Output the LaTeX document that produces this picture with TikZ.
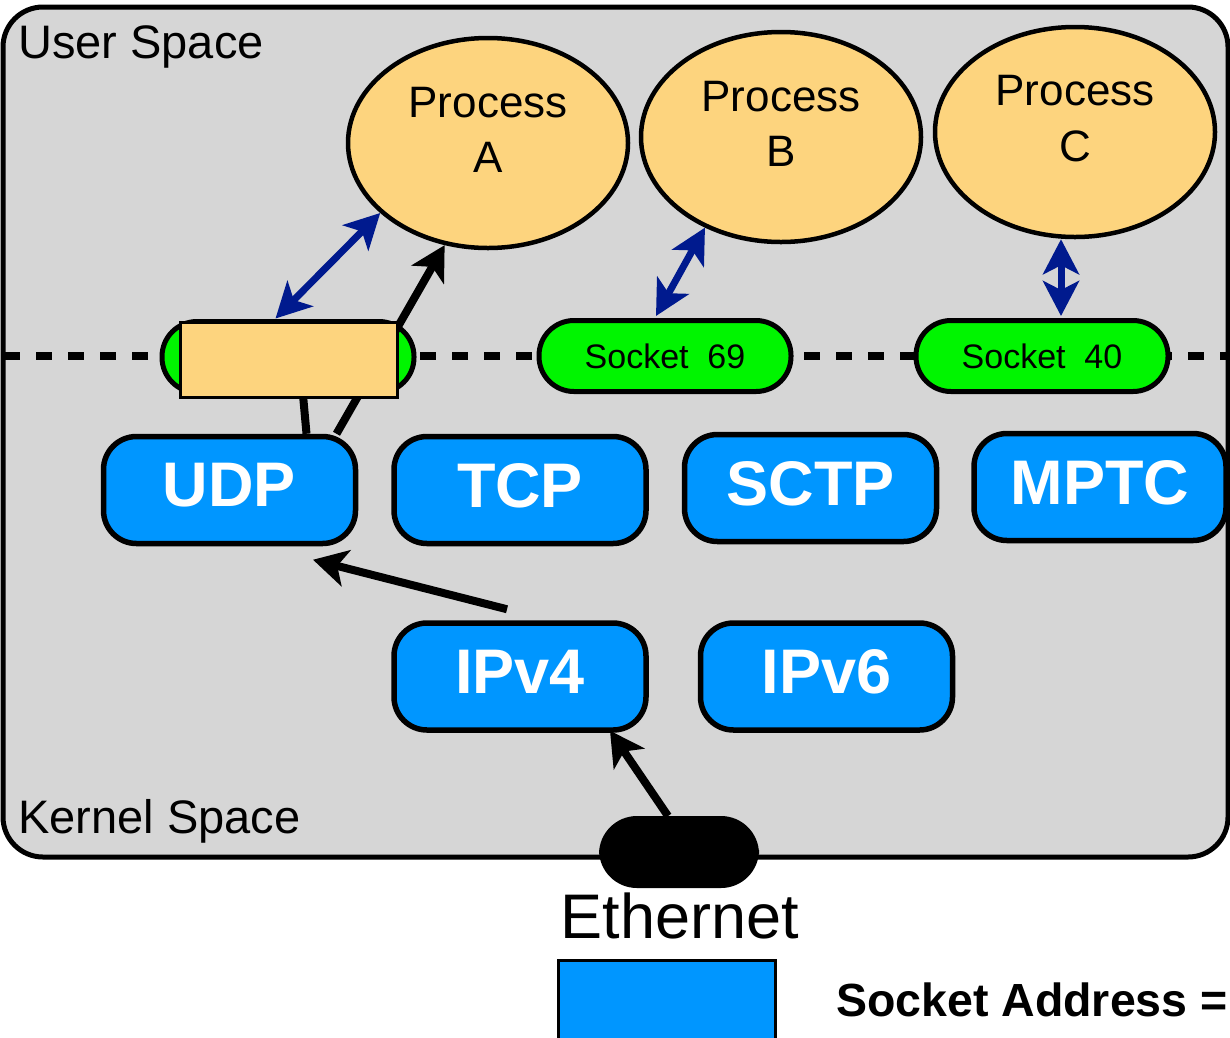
\documentclass[tikz,border=0pt]{standalone}
\usepackage{fontspec}
\setmainfont{Liberation Sans}
\usetikzlibrary{arrows.meta,calc,shapes.geometric}
\definecolor{panelgray}{HTML}{D6D6D6}
\definecolor{procorange}{HTML}{FDD47E}
\definecolor{protoblue}{HTML}{0096FF}
\definecolor{sockgreen}{HTML}{00F500}
\definecolor{linknavy}{HTML}{001A8E}
\newcommand{\fsz}[1]{\fontsize{#1}{#1}\selectfont}
\tikzset{
  proc/.style={ellipse, draw, line width=4.5pt, fill=procorange,
    minimum width=280pt, minimum height=210pt, inner sep=0pt},
  proctext/.style={anchor=base, inner sep=0pt, font=\fsz{44}},
  sock/.style={draw, line width=5pt, fill=sockgreen, rounded corners=35pt,
    minimum width=252pt, minimum height=71pt, inner sep=0pt, font=\fsz{34}},
  proto/.style={draw, line width=5.5pt, fill=protoblue, rounded corners=33pt,
    minimum width=252pt, minimum height=107pt, inner sep=0pt, text depth=10pt,
    text=white, font=\fsz{63}\bfseries},
  spacelabel/.style={anchor=base west, inner sep=0pt, font=\fsz{47}},
  blackarrow/.style={line width=8pt, -{Stealth[length=34pt,width=37pt,inset=9pt]}},
  blackline/.style={line width=8pt},
  bluearrow/.style={line width=7pt, draw=linknavy,
    {Stealth[length=35pt,width=36pt,inset=9pt,fill=linknavy]}-{Stealth[length=35pt,width=36pt,inset=9pt,fill=linknavy]}}
}
\begin{document}
\begin{tikzpicture}[x=1pt,y=-1pt]
\useasboundingbox (0,0) rectangle (1230,1037);

% user/kernel panel
\draw[line width=5pt, fill=panelgray, rounded corners=40pt] (3,7) rectangle (1228,857);
\node[spacelabel] (userlbl) at (18,58) {User Space};
\node[spacelabel] (kernlbl) at (18,833) {Kernel Space};

% user/kernel boundary
\draw[line width=8pt, dash pattern=on 16pt off 16pt] (4,356) -- (1230,356);

% sockets
\node[sock] (sudp) at (288,357) {};
\node[sock] (s69) at (665,356) {Socket~~69};
\node[sock] (s40) at (1042,356) {Socket~~40};

% processes
\node[proc] (pA) at (488,143) {};
\node[proc] (pB) at (781,137) {};
\node[proc] (pC) at (1075,132) {};
\node[proctext] (pAt1) at (488,117) {Process};
\node[proctext] (pAt2) at (488,172) {A};
\node[proctext] (pBt1) at (781,111) {Process};
\node[proctext] (pBt2) at (781,166) {B};
\node[proctext] (pCt1) at (1075,105) {Process};
\node[proctext] (pCt2) at (1075,161) {C};

% protocol boxes
\node[proto] (udp) at (229.5,490) {UDP};
\node[proto] (tcp) at (520,490) {TCP};
\node[proto] (sctp) at (810.5,488) {SCTP};
\node[proto] (mptc) at (1100,487) {MPTC};
\node[proto] (ipv4) at (520,676.5) {IPv4};
\node[proto] (ipv6) at (826.5,676.5) {IPv6};

% UDP up through its socket to process A
\draw[blackline] ($(udp.north)+(77,0)$) -- ($(sudp.south)+(15,0)$);
\draw[blackarrow] ($(udp.north)+(107,0)$) -- (pA.-113);

% address block over the UDP socket
\node[draw, line width=3pt, fill=procorange, minimum width=217pt, minimum height=75pt,
  inner sep=0pt] (addr) at (288.5,359.5) {};

% socket <-> process links
\draw[bluearrow] ($(addr.north)+(-13,-2)$) -- (pA.-147);
\draw[bluearrow] ($(s69.north)+(-9,-2)$) -- (pB.-130);
\coordinate (s40top) at ($(s40.north)+(19,-2)$);
\draw[bluearrow] (s40top) -- (s40top |- pC.south);

% ethernet
\node[draw, fill=black, rounded corners=37pt, minimum width=158pt, minimum height=70pt,
  line width=2pt] (eth) at (679,852) {};
\node[anchor=base, inner sep=0pt, font=\fsz{63}] (ethlbl) at (680,938) {Ethernet};

% packet path
\draw[blackarrow] ($(eth.north)+(-11,0)$) -- ($(ipv4.south)+(90,-2)$);
\draw[blackarrow] ($(ipv4.north)+(-13,-11)$) -- ($(udp.south)+(83.5,13.5)$);

% legend
\node[draw, line width=3pt, fill=protoblue, minimum width=217pt, minimum height=80pt,
  inner sep=0pt] (legbox) at (666.5,1000) {};
\node[anchor=base west, inner sep=0pt, font=\fsz{46.5}\bfseries] (legtxt) at (836,1016) {Socket Address =};
\end{tikzpicture}
\end{document}
